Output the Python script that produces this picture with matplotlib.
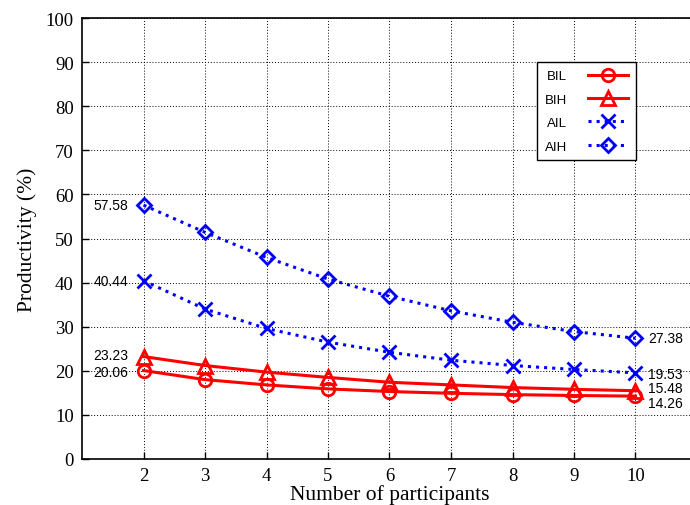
import matplotlib
matplotlib.use("Agg")
import matplotlib.pyplot as plt

# Donnees
participants = [2, 3, 4, 5, 6, 7, 8, 9, 10]
bil = [20.06, 18.0, 16.8, 15.9, 15.3, 14.9, 14.6, 14.4, 14.26]
bih = [23.23, 21.2, 19.7, 18.5, 17.4, 16.8, 16.2, 15.8, 15.48]
ail = [40.44, 34.0, 29.6, 26.5, 24.2, 22.4, 21.2, 20.3, 19.53]
aih = [57.58, 51.4, 45.7, 40.8, 36.9, 33.6, 31.0, 28.9, 27.38]
series_names = ["BIL", "BIH", "AIL", "AIH"]
y_ticks = [0, 10, 20, 30, 40, 50, 60, 70, 80, 90, 100]

serif = "Liberation Serif"
sans = "Liberation Sans"

fig = plt.figure(figsize=(6.9, 5.06), dpi=100)
# l'axe deborde a droite comme dans l'original
ax = fig.add_axes([82 / 690, 46 / 506, 615 / 690, 441 / 506])

styles = [
    dict(color="red", linestyle="-", marker="o", markersize=9),
    dict(color="red", linestyle="-", marker="^", markersize=10),
    dict(color="blue", linestyle=":", marker="x", markersize=10),
    dict(color="blue", linestyle=":", marker="D", markersize=7),
]
for name, vals, st in zip(series_names, [bil, bih, ail, aih], styles):
    ax.plot(participants, vals, label=name, linewidth=2.2, markeredgewidth=2,
            fillstyle="none", **st)

# Valeurs extremes annotees
for vals, dy in [(bil, -1), (bih, 1), (ail, 0), (aih, 0)]:
    ax.annotate(f"{vals[0]:.2f}", (participants[0], vals[0]), xytext=(-11, dy),
                textcoords="offset points", ha="right", va="center",
                fontsize=10, family=sans)
for vals, dy in [(bil, -5), (bih, 2), (ail, -1), (aih, 0)]:
    ax.annotate(f"{vals[-1]:.2f}", (participants[-1], vals[-1]), xytext=(9, dy),
                textcoords="offset points", ha="left", va="center",
                fontsize=10, family=sans)

ax.set_xlim(1, 11)
ax.set_ylim(0, 100)
ax.set_xticks(participants)
ax.set_yticks(y_ticks)
ax.tick_params(direction="in", length=5, width=1, labelsize=13.5, pad=6)
for lab in ax.get_xticklabels() + ax.get_yticklabels():
    lab.set_family(serif)
ax.grid(True, color="black", linestyle=(0, (1, 2)), linewidth=0.7)
for sp in ax.spines.values():
    sp.set_linewidth(1.2)

ax.set_xlabel("Number of participants", fontsize=15.5, family=serif, labelpad=0)
ax.set_ylabel("Productivity (%)", fontsize=15.5, family=serif, labelpad=6)

leg = ax.legend(loc="upper left", bbox_to_anchor=(455 / 615, 1 - 44 / 441),
                borderaxespad=0, markerfirst=False, fancybox=False,
                framealpha=1, edgecolor="black",
                prop={"family": sans, "size": 9.5},
                handlelength=3.0, labelspacing=0.85, borderpad=0.6,
                handletextpad=1.6)
leg.get_frame().set_linewidth(1.0)

fig.savefig("out.png", dpi=100)
